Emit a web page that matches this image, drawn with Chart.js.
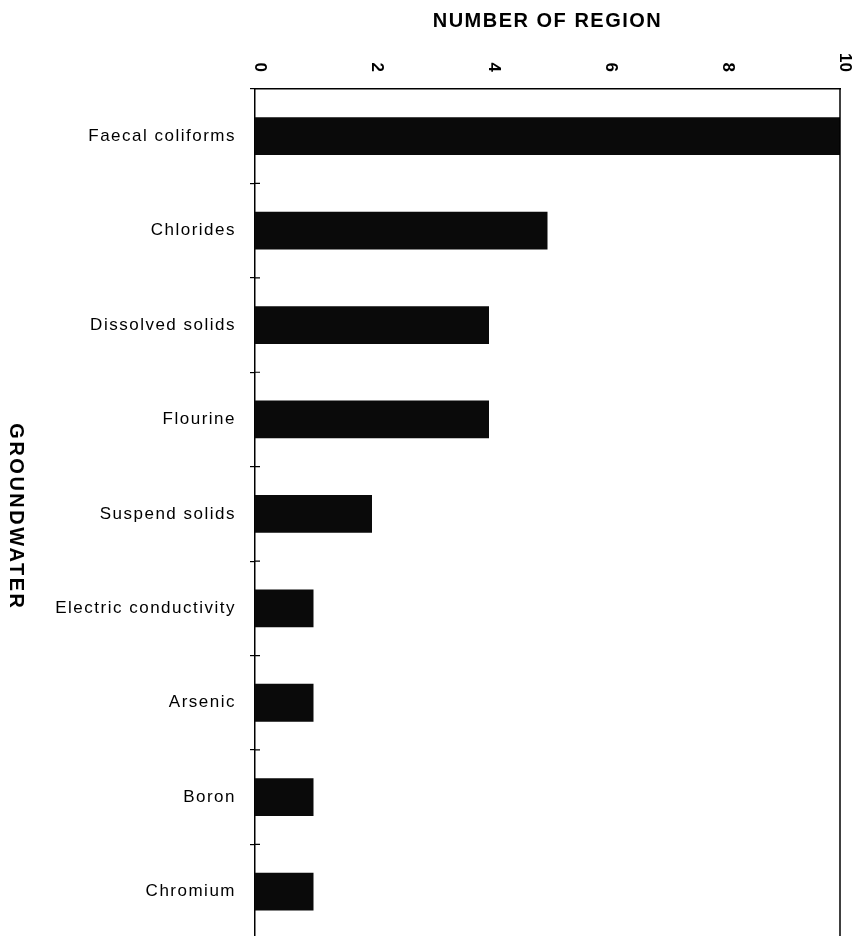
<!DOCTYPE html>
<html><head><meta charset="utf-8">
<script src="https://cdn.jsdelivr.net/npm/chart.js@4"></script>
<style>html,body{margin:0;padding:0;background:#fff;overflow:hidden}
#wrap{position:relative;width:855px;height:963px}</style>
</head><body><div id="wrap"><canvas id="c"></canvas></div>
<script>
const categories = ['Faecal coliforms','Chlorides','Dissolved solids','Flourine','Suspend solids','Electric conductivity','Arsenic','Boron','Chromium'];
const regionCounts = [10,5,4,4,2,1,1,1,1];
const xTickValues = [0,2,4,6,8,10];
const xAxisTitle = 'NUMBER OF REGION';
const yAxisTitle = 'GROUNDWATER';

const FONT = '"Liberation Sans", Arial, Helvetica, sans-serif';
Chart.defaults.font.family = FONT;
Chart.defaults.color = '#000';

const deco = {
  id: 'deco',
  beforeDraw(chart){ chart.ctx.letterSpacing = '1.5px'; },
  afterDraw(chart){
    const ctx = chart.ctx, a = chart.chartArea, xs = chart.scales.x, ys = chart.scales.y;
    ctx.save();
    ctx.letterSpacing = '0px';
    ctx.strokeStyle = '#000';
    ctx.lineWidth = 1.5;
    ctx.beginPath();
    ctx.moveTo(a.right, a.top); ctx.lineTo(a.right, a.bottom);
    ctx.stroke();
    ctx.lineWidth = 1.2;
    ctx.beginPath();
    for (let i = 0; i < categories.length - 1; i++) {
      const yy = (ys.getPixelForValue(i) + ys.getPixelForValue(i + 1)) / 2;
      ctx.moveTo(a.left, yy); ctx.lineTo(a.left + 5, yy);
    }
    ctx.stroke();
    ctx.fillStyle = '#000';
    ctx.font = 'bold 17px ' + FONT;
    xTickValues.forEach(v => {
      const px = xs.getPixelForValue(v) + 5;
      ctx.save();
      ctx.translate(px, 72);
      ctx.rotate(Math.PI / 2);
      ctx.textAlign = 'right';
      ctx.textBaseline = 'middle';
      ctx.fillText(String(v), 0, 0);
      ctx.restore();
    });
    ctx.font = 'bold 20px ' + FONT;
    ctx.letterSpacing = '2.5px';
    ctx.translate(16, (a.top + a.bottom) / 2 + 3);
    ctx.rotate(Math.PI / 2);
    ctx.textAlign = 'center';
    ctx.textBaseline = 'middle';
    ctx.fillText(yAxisTitle, 0, 0);
    ctx.restore();
    ctx.letterSpacing = '0px';
  }
};

new Chart(document.getElementById('c'), {
  type: 'bar',
  data: {
    labels: categories,
    datasets: [{
      data: regionCounts,
      backgroundColor: '#0a0a0a',
      borderWidth: 0,
      barPercentage: 0.4,
      categoryPercentage: 1.0
    }]
  },
  options: {
    indexAxis: 'y',
    responsive: true,
    maintainAspectRatio: false,
    animation: false,
    devicePixelRatio: 1,
    layout: { padding: { left: 0, right: 15, top: 0, bottom: 2 } },
    plugins: { legend: { display: false }, tooltip: { enabled: false } },
    scales: {
      x: {
        position: 'top',
        min: 0, max: 10,
        afterFit(s){ s.height = 89; },
        ticks: { display: false, stepSize: 2 },
        grid: { display: false, drawTicks: false },
        border: { display: true, color: '#000', width: 1.5 },
        title: {
          display: true, text: xAxisTitle, color: '#000',
          font: { size: 20, weight: 'bold', lineHeight: 1.2 },
          padding: { top: 9, bottom: 0 }
        }
      },
      y: {
        position: 'left',
        afterFit(s){ s.width = 255; },
        ticks: { color: '#000', font: { size: 17 }, padding: 14 },
        grid: { display: true, drawOnChartArea: false, drawTicks: true, tickLength: 5, color: '#000', lineWidth: 1.2, offset: true },
        border: { display: true, color: '#000', width: 1.5 }
      }
    }
  },
  plugins: [deco]
});
</script>
</body></html>
